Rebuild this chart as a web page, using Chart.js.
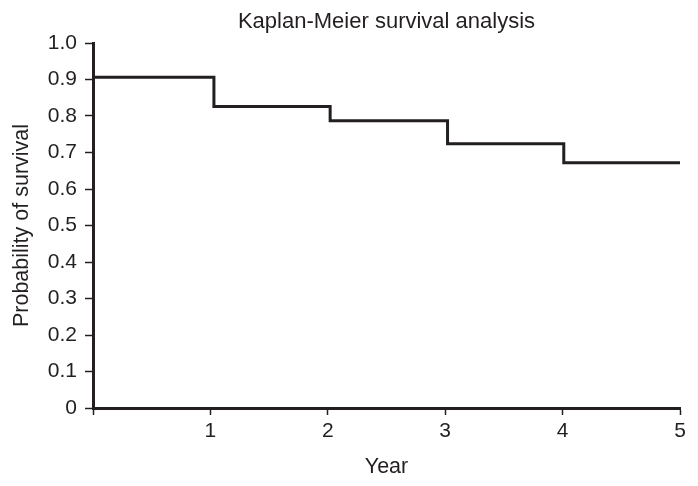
<!DOCTYPE html>
<html>
<head>
<meta charset="utf-8">
<script src="https://cdn.jsdelivr.net/npm/chart.js@4.4.1/dist/chart.umd.min.js"></script>
<style>
  html, body { margin: 0; padding: 0; background: #ffffff; }
  #wrap { width: 698px; height: 486px; position: relative; }
</style>
</head>
<body>
<div id="wrap"><canvas id="kmChart"></canvas></div>
<script>
// Kaplan-Meier steps
const years = [0, 1.03, 2.02, 3.02, 4.01, 5];
const survival = [0.906, 0.826, 0.787, 0.724, 0.672, 0.672];

const xTickLabels = ["", "1", "2", "3", "4", "5"];
const yTickLabels = ["0", "0.1", "0.2", "0.3", "0.4", "0.5", "0.6", "0.7", "0.8", "0.9", "1.0"];

const ink = "#231f20";
Chart.defaults.font.family = "'Liberation Sans', Arial, Helvetica, sans-serif";
Chart.defaults.color = ink;

document.addEventListener("DOMContentLoaded", function () {

    const ctx = document.getElementById("kmChart");

    const points = years.map(function (x, i) {
        return { x: x, y: survival[i] };
    });

    new Chart(ctx, {
        type: "line",

        data: {
            datasets: [{
                label: "Survival",
                data: points,
                borderColor: ink,
                borderWidth: 3,
                pointRadius: 0,
                stepped: true,
                fill: false,
                clip: false
            }]
        },

        options: {
            responsive: true,
            maintainAspectRatio: false,
            animation: false,
            layout: {
                padding: { left: 0, right: 18, top: 0, bottom: 0 }
            },

            plugins: {
                legend: { display: false },
                tooltip: { enabled: false },
                title: {
                    display: true,
                    text: "Kaplan-Meier survival analysis",
                    fullSize: false,
                    color: ink,
                    font: { size: 22, weight: "normal" },
                    padding: { top: 9, bottom: 7.6 }
                }
            },

            scales: {
                x: {
                    type: "linear",
                    min: 0,
                    max: 5,
                    afterFit: function (scale) { scale.height = 78; },
                    ticks: {
                        stepSize: 1,
                        color: ink,
                        font: { size: 21 },
                        padding: 4,
                        maxRotation: 0,
                        callback: function (value) {
                            return xTickLabels[Math.round(value)];
                        }
                    },
                    grid: {
                        drawOnChartArea: false,
                        drawTicks: true,
                        tickLength: 7,
                        tickWidth: 1.5,
                        tickColor: ink
                    },
                    border: { display: true, width: 3, color: ink },
                    title: {
                        display: true,
                        text: "Year",
                        color: ink,
                        font: { size: 21.5 },
                        padding: { top: 0, bottom: 6 }
                    }
                },

                y: {
                    min: 0,
                    max: 1,
                    afterFit: function (scale) { scale.width = 93; },
                    ticks: {
                        stepSize: 0.1,
                        color: ink,
                        font: { size: 21 },
                        padding: 8,
                        callback: function (value) {
                            return yTickLabels[Math.round(value * 10)];
                        }
                    },
                    grid: {
                        drawOnChartArea: false,
                        drawTicks: true,
                        tickLength: 8,
                        tickWidth: 1.5,
                        tickColor: ink
                    },
                    border: { display: true, width: 3, color: ink },
                    title: {
                        display: true,
                        text: "Probability of survival",
                        color: ink,
                        font: { size: 21.5 },
                        padding: { top: 9, bottom: 0 }
                    }
                }
            }
        }

    });

});
</script>
</body>
</html>
